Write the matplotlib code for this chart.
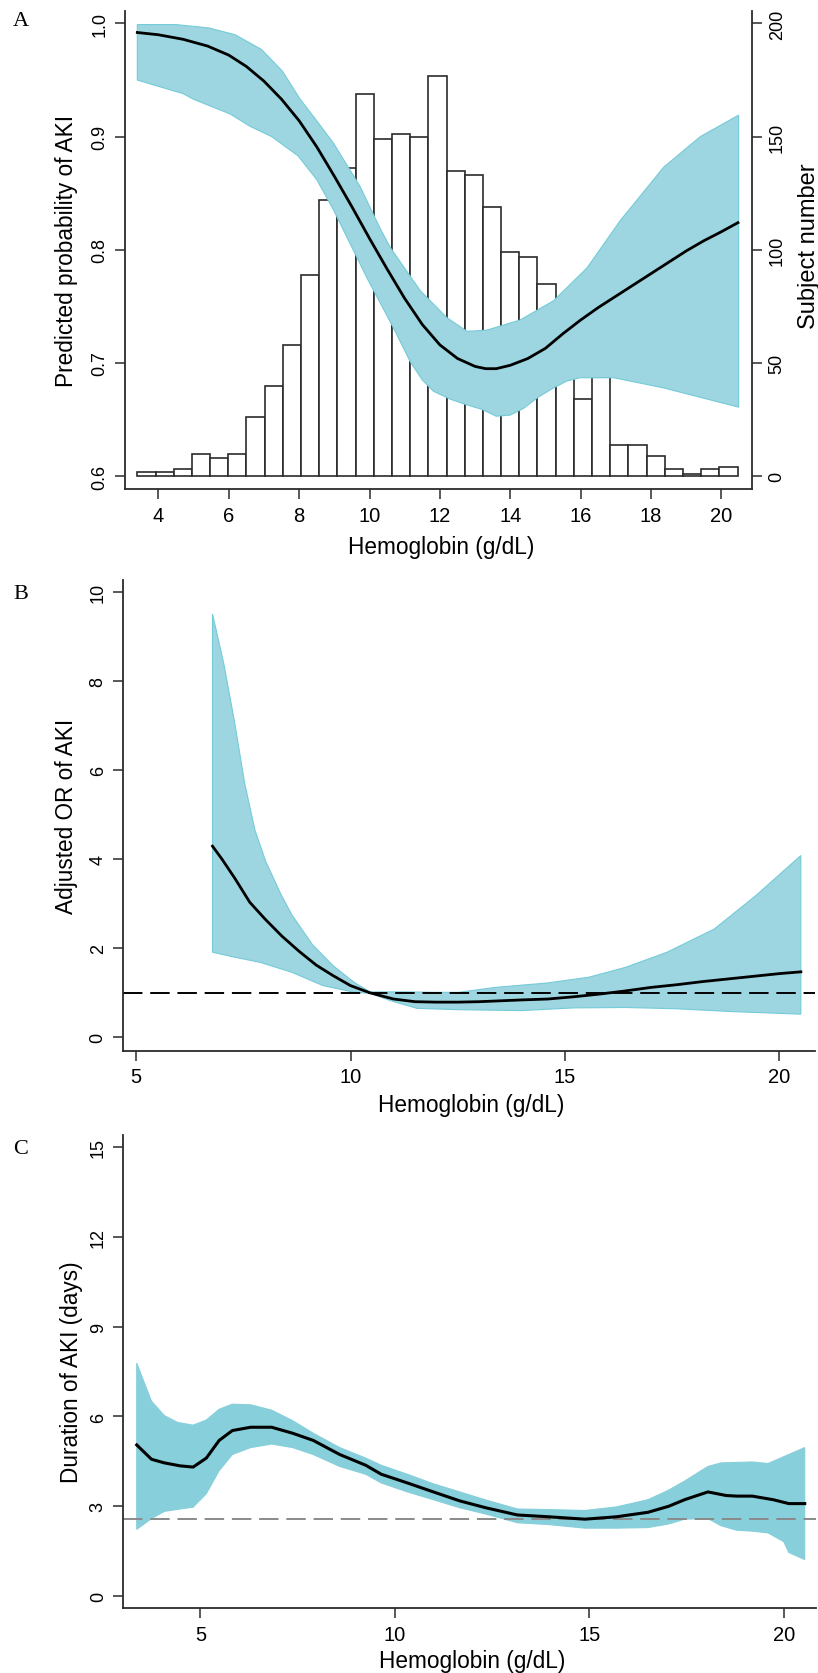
import numpy as np
import matplotlib
matplotlib.use('Agg')
import matplotlib.pyplot as plt

plt.rcParams['font.family'] = ['Liberation Sans', 'DejaVu Sans']

# ---- Panel A: predicted probability + histogram of hemoglobin
hist_counts = [2, 2, 3, 10, 8, 10, 26, 40, 58, 89, 122, 136, 169, 149, 151, 150, 177,
               135, 133, 119, 99, 97, 85, 65, 34, 44, 14, 14, 9, 3, 1, 3, 4]
hist_range = (3.40, 20.46)

a_x = [3.40, 4.0, 4.7, 5.4, 6.0, 6.5, 7.0, 7.5, 8.0, 8.5, 9.0, 9.5, 10.0, 10.5, 11.0,
       11.5, 12.0, 12.5, 13.0, 13.3, 13.6, 14.0, 14.5, 15.0, 15.5, 16.0, 16.5, 17.0,
       17.5, 18.0, 18.5, 19.0, 19.5, 20.0, 20.47]
a_fit = [0.992, 0.990, 0.986, 0.980, 0.972, 0.962, 0.949, 0.933, 0.914, 0.891, 0.865,
         0.838, 0.810, 0.783, 0.757, 0.734, 0.716, 0.704, 0.697, 0.695, 0.695, 0.698,
         0.704, 0.713, 0.726, 0.738, 0.749, 0.759, 0.769, 0.779, 0.789, 0.799, 0.808,
         0.816, 0.824]
a_up_x = [3.40, 4.5, 5.44, 6.18, 6.93, 7.52, 8.03, 8.5, 8.98, 9.73, 10.3, 10.59, 11.44,
          12.20, 12.77, 13.33, 14.28, 15.23, 16.18, 17.13, 18.36, 19.40, 20.49]
a_up = [0.999, 0.999, 0.996, 0.990, 0.977, 0.958, 0.933, 0.914, 0.894, 0.856, 0.819,
        0.802, 0.764, 0.740, 0.728, 0.729, 0.738, 0.755, 0.784, 0.826, 0.873, 0.900, 0.919]
a_lo_x = [3.40, 4.70, 5.0, 6.04, 6.61, 7.22, 7.97, 8.5, 8.98, 9.93, 10.68, 11.16, 11.5,
          11.82, 12.3, 12.77, 13.2, 13.6, 14.0, 14.38, 14.8, 15.23, 15.6, 15.99, 16.94,
          18.36, 20.49]
a_lo = [0.950, 0.938, 0.933, 0.920, 0.909, 0.900, 0.883, 0.862, 0.835, 0.775, 0.731,
        0.701, 0.685, 0.675, 0.668, 0.663, 0.659, 0.653, 0.654, 0.660, 0.670, 0.678,
        0.684, 0.687, 0.687, 0.678, 0.661]

# ---- Panel B: adjusted OR
b_x = [6.78, 7.0, 7.3, 7.65, 8.0, 8.4, 8.8, 9.2, 9.6, 10.0, 10.45, 11.0, 11.5, 12.0,
       12.5, 13.0, 13.5, 14.0, 14.6, 15.2, 15.8, 16.4, 17.0, 17.6, 18.2, 18.8, 19.4,
       20.0, 20.5]
b_fit = [4.29, 4.00, 3.57, 3.03, 2.66, 2.27, 1.93, 1.62, 1.38, 1.16, 1.00, 0.86, 0.80,
         0.79, 0.79, 0.80, 0.82, 0.84, 0.86, 0.91, 0.97, 1.04, 1.12, 1.18, 1.25, 1.31,
         1.37, 1.43, 1.47]
b_up_x = [6.78, 7.04, 7.29, 7.53, 7.77, 8.02, 8.38, 8.63, 9.11, 9.60, 10.09, 10.45,
          11.30, 12.0, 12.52, 13.37, 14.59, 15.56, 16.41, 17.38, 18.48, 19.45, 20.50]
b_up = [9.50, 8.40, 7.10, 5.70, 4.65, 3.95, 3.20, 2.75, 2.08, 1.60, 1.23, 1.02, 1.02,
        1.01, 1.01, 1.12, 1.22, 1.35, 1.57, 1.91, 2.43, 3.18, 4.08]
b_lo_x = [6.78, 7.29, 7.90, 8.63, 9.36, 10.09, 10.45, 10.94, 11.55, 12.52, 13.98, 15.19,
          16.41, 17.63, 18.84, 20.50]
b_lo = [1.91, 1.80, 1.68, 1.46, 1.16, 1.01, 0.99, 0.82, 0.65, 0.62, 0.60, 0.66, 0.67,
        0.64, 0.58, 0.52]
b_ref = 1.0

# ---- Panel C: duration of AKI
c_x = [3.36, 3.74, 4.07, 4.48, 4.81, 5.15, 5.48, 5.82, 6.29, 6.83, 7.37, 7.90, 8.58,
       9.25, 9.65, 10.32, 10.99, 11.67, 12.34, 13.15, 13.95, 14.89, 15.70, 16.51, 17.04,
       17.45, 18.05, 18.52, 18.79, 19.19, 19.73, 20.13, 20.54]
c_fit = [5.05, 4.57, 4.45, 4.35, 4.31, 4.61, 5.20, 5.53, 5.64, 5.64, 5.44, 5.20, 4.73,
         4.37, 4.07, 3.78, 3.48, 3.18, 2.95, 2.71, 2.65, 2.57, 2.65, 2.80, 3.00, 3.22,
         3.48, 3.36, 3.34, 3.34, 3.22, 3.09, 3.09]
c_up_x = [3.36, 3.74, 4.07, 4.41, 4.81, 5.15, 5.48, 5.82, 6.29, 6.83, 7.37, 7.90, 8.58,
          9.25, 9.65, 10.32, 10.99, 11.67, 12.34, 13.15, 13.95, 14.89, 15.70, 16.51,
          17.04, 17.45, 18.05, 18.39, 19.19, 19.60, 20.13, 20.54]
c_up = [7.78, 6.51, 6.03, 5.80, 5.71, 5.88, 6.24, 6.41, 6.39, 6.21, 5.86, 5.44, 4.96,
        4.61, 4.37, 4.07, 3.75, 3.48, 3.21, 2.91, 2.89, 2.86, 2.98, 3.22, 3.54, 3.84,
        4.33, 4.45, 4.48, 4.43, 4.73, 4.96]
c_lo_x = [3.36, 3.74, 4.07, 4.48, 4.81, 5.15, 5.48, 5.82, 6.29, 6.83, 7.37, 7.90, 8.58,
          9.25, 9.65, 10.32, 10.99, 11.67, 12.34, 13.15, 13.95, 14.89, 15.70, 16.51,
          17.04, 17.45, 18.05, 18.39, 18.79, 19.19, 19.60, 20.00, 20.13, 20.54]
c_lo = [2.23, 2.59, 2.83, 2.91, 2.97, 3.42, 4.19, 4.73, 4.96, 5.08, 4.96, 4.73, 4.33,
        4.07, 3.78, 3.48, 3.22, 2.95, 2.74, 2.45, 2.39, 2.27, 2.27, 2.29, 2.41, 2.57,
        2.59, 2.35, 2.20, 2.17, 2.11, 1.82, 1.46, 1.22]
c_ref = 2.59

XLABEL = 'Hemoglobin (g/dL)'
AXC = '#2b2b2b'
BAND = '#9dd6e0'
BAND_EDGE = '#74cbd8'
BAND_C = '#86cfdb'
LAB = 16.3
YTK = 13
XTK = 14.5

W, H = 818, 1674
fig = plt.figure(figsize=(W / 100, H / 100), dpi=100)


def rect(l, t, r, b):
    return [l / W, 1 - b / H, (r - l) / W, (b - t) / H]


def estilo(ax):
    for s in ['top', 'right']:
        ax.spines[s].set_visible(False)
    for s in ['left', 'bottom']:
        ax.spines[s].set_linewidth(1.3)
        ax.spines[s].set_color(AXC)
    ax.tick_params(direction='out', length=7, width=1.1, color=AXC, pad=5)
    ax.tick_params(axis='x', labelsize=XTK)
    ax.tick_params(axis='y', labelsize=YTK)
    for t in ax.get_yticklabels():
        t.set_rotation(90)
        t.set_va('center')


def banda(ax, ux, uy, lx, ly, color, edge):
    px = np.concatenate([ux, lx[::-1]])
    py = np.concatenate([uy, ly[::-1]])
    ax.fill(px, py, facecolor=color, edgecolor=edge, linewidth=0.8, zorder=2)


# ---------------- A
axA = fig.add_axes(rect(125, 12, 752, 490))
axA2 = axA.twinx()
axA.set_zorder(axA2.get_zorder() + 1)
axA.patch.set_visible(False)

edges = np.linspace(hist_range[0], hist_range[1], len(hist_counts) + 1)
axA2.bar(edges[:-1], hist_counts, width=np.diff(edges), align='edge',
         color='white', edgecolor=AXC, linewidth=1.2)
banda(axA, np.array(a_up_x), np.array(a_up), np.array(a_lo_x), np.array(a_lo),
      BAND, BAND_EDGE)
axA.plot(a_x, a_fit, color='black', linewidth=2.0, zorder=3)

axA.set_xlim(3.05, 20.87)
axA.set_ylim(0.5887, 1.011)
axA2.set_ylim(-5.65, 205.5)
axA.set_xticks(range(4, 21, 2))
axA.set_yticks([0.6, 0.7, 0.8, 0.9, 1.0])
axA.set_yticklabels(['0.6', '0.7', '0.8', '0.9', '1.0'])
axA2.set_yticks(range(0, 201, 50))
estilo(axA)
axA2.spines['top'].set_visible(False)
axA2.spines['left'].set_visible(False)
axA2.spines['bottom'].set_visible(False)
axA2.spines['right'].set_linewidth(1.3)
axA2.spines['right'].set_color(AXC)
axA2.tick_params(direction='out', length=7, width=1.1, color=AXC, labelsize=YTK, pad=5)
for t in axA2.get_yticklabels():
    t.set_rotation(90)
    t.set_va('center')
axA.set_ylabel('Predicted probability of AKI', fontsize=LAB)
axA.yaxis.set_label_coords(-0.075, 0.5)
axA.set_xlabel(XLABEL, fontsize=LAB)
axA.xaxis.set_label_coords(0.504, -0.096)
axA2.set_ylabel('Subject number', fontsize=17)
axA2.yaxis.set_label_coords(1.073, 0.51)

# ---------------- B
axB = fig.add_axes(rect(123.3, 580.7, 815, 1051.7))
banda(axB, np.array(b_up_x), np.array(b_up), np.array(b_lo_x), np.array(b_lo),
      BAND, BAND_EDGE)
axB.axhline(b_ref, color='black', linewidth=1.4, dashes=(10, 4), zorder=2.5)
axB.plot(b_x, b_fit, color='black', linewidth=2.0, zorder=3)
axB.set_xlim(4.70, 20.83)
axB.set_ylim(-0.30, 10.27)
axB.set_xticks([5, 10, 15, 20])
axB.set_yticks(range(0, 11, 2))
estilo(axB)
axB.set_ylabel('Adjusted OR of AKI', fontsize=LAB)
axB.yaxis.set_label_coords(-0.066, 0.5)
axB.set_xlabel(XLABEL, fontsize=LAB)
axB.xaxis.set_label_coords(0.503, -0.09)

# ---------------- C
axC = fig.add_axes(rect(123.5, 1136, 816, 1609.4))
banda(axC, np.array(c_up_x), np.array(c_up), np.array(c_lo_x), np.array(c_lo),
      BAND_C, BAND_C)
axC.axhline(c_ref, color='#8a8a8a', linewidth=1.4, dashes=(10, 4), zorder=2.5)
axC.plot(c_x, c_fit, color='black', linewidth=2.2, zorder=3)
axC.set_xlim(3.02, 20.83)
axC.set_ylim(-0.41, 15.40)
axC.set_xticks([5, 10, 15, 20])
axC.set_yticks(range(0, 16, 3))
estilo(axC)
axC.set_ylabel('Duration of AKI (days)', fontsize=LAB)
axC.yaxis.set_label_coords(-0.059, 0.502)
axC.set_xlabel(XLABEL, fontsize=LAB)
axC.xaxis.set_label_coords(0.503, -0.085)

# panel letters
for letra, y in [('A', 22), ('B', 595), ('C', 1150)]:
    fig.text(13 / W, 1 - y / H, letra, family=['Liberation Serif', 'DejaVu Serif'],
             fontsize=16, va='center', ha='left')

fig.savefig('out.png', dpi=100)
